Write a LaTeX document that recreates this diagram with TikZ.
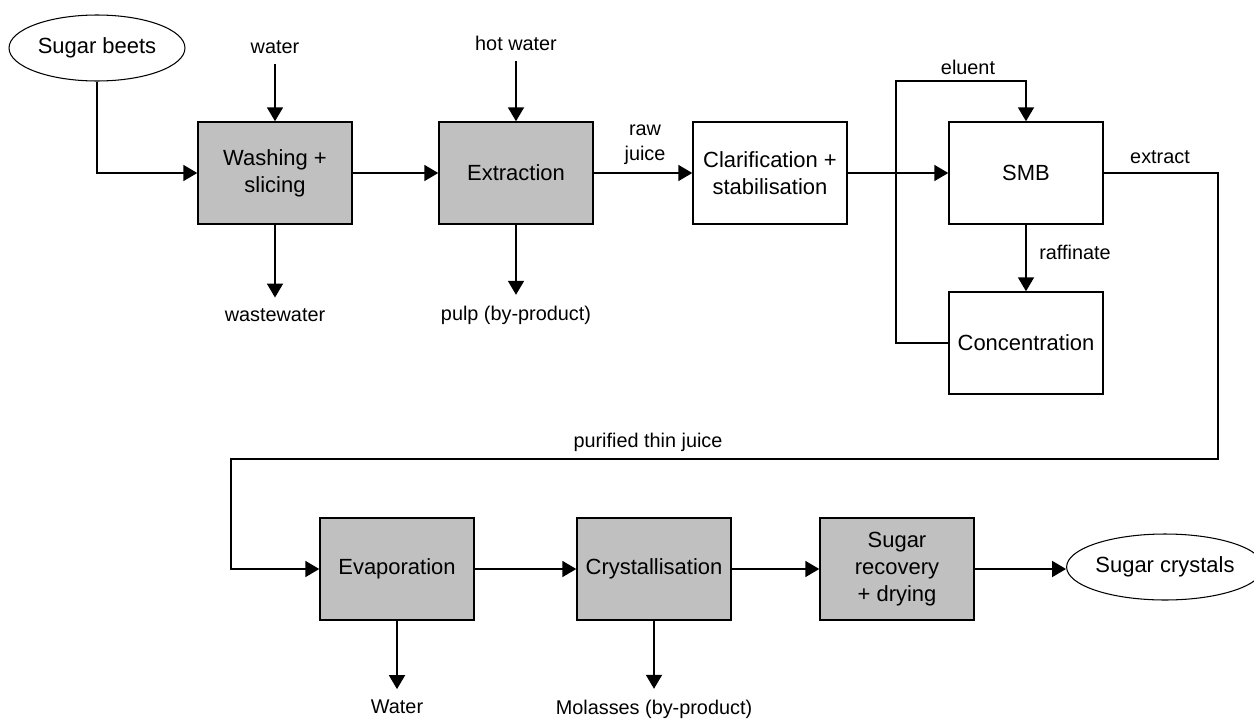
\documentclass[tikz,border=0pt]{standalone}
\usepackage{fontspec}
\setmainfont{Liberation Sans}
\usetikzlibrary{arrows.meta,shapes.geometric}
\definecolor{boxgray}{RGB}{192,192,192}

\begin{document}
\begin{tikzpicture}[x=0.02cm,y=-0.02cm,
	unit/.style={draw,line width=0.8pt,minimum width=3.08cm,minimum height=2.04cm,align=center,font=\fontsize{12.5}{15.5}\selectfont},
	grey/.style={unit,fill=boxgray},
	stream/.style={draw,ellipse,line width=0.6pt,minimum width=3.52cm,minimum height=1.32cm,inner sep=0pt,font=\fontsize{12.5}{15}\selectfont},
	lbl/.style={inner sep=6pt,align=center,font=\fontsize{11.3}{14}\selectfont},
	flow/.style={line width=1.4pt,-{Triangle[length=8pt,width=9pt]}}]
		
		\useasboundingbox (0,0) rectangle (1254,720);
		
		% first line
		\node[stream] (beets) at (97,48) {Sugar beets};
		\node[grey] (wash) at (275,173) {Washing +\\slicing};
		\node[grey] (extr) at (516,173) {Extraction};
		\node[unit] (clar) at (770,173) {Clarification +\\stabilisation};
		\node[unit] (smb) at (1026,173) {SMB};
		\node[unit] (conc) at (1026,343) {Concentration};
		
		\node[lbl] (water) at (275,47) {water};
		\node[lbl] (waste) at (275,315) {wastewater};
		\node[lbl] (hot) at (516,43) {hot water};
		\node[lbl] (pulp) at (516,315) {pulp (by-product)};
		\node[lbl] (raw) at (645,145) {raw\\juice};
		\node[lbl] (eluent) at (968,67) {eluent};
		\node[lbl] (raff) at (1075,252) {raffinate};
		\node[lbl] (extract) at (1160,157) {extract};
		\node[lbl] (thin) at (648,442) {purified thin juice};
		
		\coordinate (elu) at (896,81);
		\coordinate (ex1) at (1218,459);
		\coordinate (ex2) at (231,459);
		
		% second line
		\node[grey] (evap) at (397,569) {Evaporation};
		\node[grey] (cryst) at (654,569) {Crystallisation};
		\node[grey] (rec) at (897,569) {Sugar\\recovery\\+ drying};
		\node[stream] (crystals) at (1165,567) {Sugar crystals};
		
		\node[lbl] (wout) at (397,707) {Water};
		\node[lbl] (mol) at (654,709) {Molasses (by-product)};
		
		
		\draw[flow] (beets.south) |- (wash.west);
		\draw[flow] (water) to (wash);
		\draw[flow] (wash) to (waste);
		\draw[flow] (wash) to (extr);
		\draw[flow] (hot) to (extr);
		\draw[flow] (extr) to (pulp);
		\draw[flow] (extr) to (clar);
		\draw[flow] (clar) to (smb);
		\draw[flow] (conc.west) -| (elu) -| (smb.north);
		\draw[flow] (smb) to (conc);
		\draw[flow] (smb.east) -| (ex1) -- (ex2) |- (evap.west);
		
		\draw[flow] (evap) to (cryst);
		\draw[flow] (evap) to (wout);
		\draw[flow] (cryst) to (rec);
		\draw[flow] (cryst) to (mol);
		\draw[flow] (rec.east) to (rec.east -| crystals.west);

	\end{tikzpicture}
\end{document}
